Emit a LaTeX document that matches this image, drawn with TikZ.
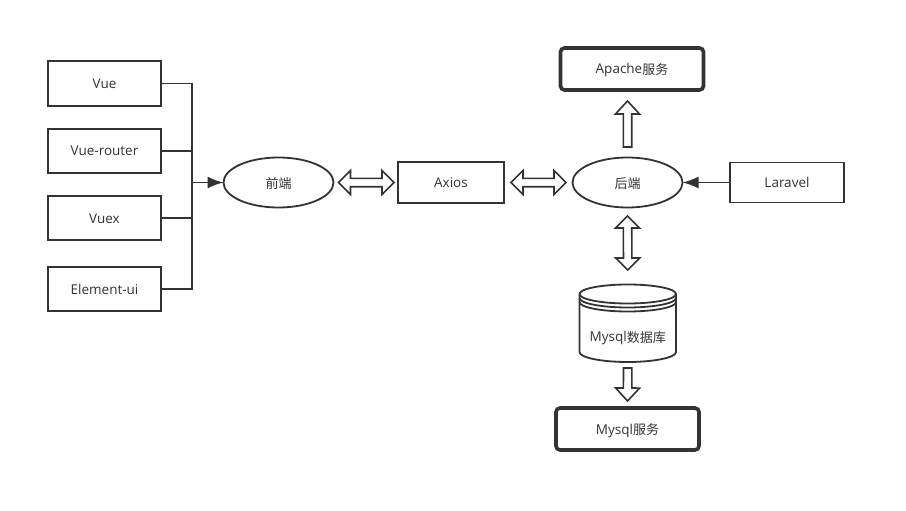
\documentclass[tikz,border=0pt]{standalone}
\usepackage{fontspec}
\setmainfont{Open Sans}
\newfontfamily\cjk{Noto Sans CJK SC}
\usetikzlibrary{calc,shapes.geometric,arrows.meta}
\definecolor{ink}{HTML}{333333}
\newcommand\ptA[2]{($(\p1)!#1!(\p2)!#2!90:(\p2)$)}
\newcommand\ptB[2]{($(\p2)!#1!(\p1)!#2!90:(\p1)$)}
\tikzset{
  x=1pt,y=-1pt,
  every node/.style={text=ink,font=\fontsize{13.5}{15}\selectfont,inner sep=0pt,outer sep=0pt,text height=11pt,text depth=1pt},
  boxnode/.style={draw=ink,line width=1.8pt,minimum width=#1,minimum height=44pt},
  servicebox/.style={draw=ink,line width=3.6pt,rounded corners=4pt,minimum width=#1,minimum height=42pt},
  ellnode/.style={draw=ink,line width=1.8pt,ellipse,minimum width=110pt,minimum height=50pt},
  wire/.style={draw=ink,line width=1.8pt},
  feed/.style={draw=ink,line width=1.8pt,-{Latex[length=16pt,width=12pt]}},
  blockboth/.style 2 args={draw=ink,fill=white,line width=1.6pt,to path={
    let \p1=($(\tikztostart)!#1!(\tikztotarget)$),\p2=($(\tikztotarget)!#2!(\tikztostart)$) in
    (\p1) -- \ptA{12pt}{12pt} -- \ptA{12pt}{4.2pt} -- \ptB{12pt}{-4.2pt} -- \ptB{12pt}{-12pt}
    -- (\p2) -- \ptB{12pt}{12pt} -- \ptB{12pt}{4.2pt} -- \ptA{12pt}{-4.2pt} -- \ptA{12pt}{-12pt} -- cycle}},
  blockone/.style 2 args={draw=ink,fill=white,line width=1.6pt,to path={
    let \p1=($(\tikztostart)!#1!(\tikztotarget)$),\p2=($(\tikztotarget)!#2!(\tikztostart)$) in
    \ptA{0pt}{4.2pt} -- \ptB{13pt}{-4.2pt} -- \ptB{13pt}{-12pt}
    -- (\p2) -- \ptB{13pt}{12pt} -- \ptB{13pt}{4.2pt} -- \ptA{0pt}{-4.2pt} -- cycle}},
}
\newcommand\zh[1]{{\cjk\fontsize{13}{15}\selectfont\raisebox{-0.6pt}{#1}}}
\begin{document}
\begin{tikzpicture}
\useasboundingbox (0,0) rectangle (906,511);
\fill[white] (0,0) rectangle (906,511);

\node[boxnode=113pt,minimum height=45pt] (vue) at (104.5,83.5) {Vue};
\node[boxnode=113pt] (router) at (104.5,151) {Vue-router};
\node[boxnode=113pt] (vuex) at (104.5,218) {Vuex};
\node[boxnode=113pt] (element) at (104.5,289) {Element-ui};
\node[ellnode] (front) at (278.5,182.5) {\zh{前端}};
\node[boxnode=106pt,minimum height=41pt] (axios) at (451,182.5) {Axios};
\node[ellnode] (back) at (627.5,182.5) {\zh{后端}};
\node[boxnode=114pt,minimum height=40pt] (laravel) at (787,182.5) {Laravel};
\node[servicebox=143pt] (apache) at (632,69) {Apache\zh{服务}};
\node[servicebox=143pt] (mysqlsvc) at (627.5,429) {Mysql\zh{服务}};

% database cylinder
\node[minimum width=96.5pt,minimum height=78pt] (db) at (627.75,323) {};
\draw[wire,fill=white] (db.north west) ++(0,10)
  -- ++(0,58) arc[start angle=180,end angle=360,x radius=48.25pt,y radius=10pt]
  -- ++(0,-58);
\draw[wire,fill=white] ($(db.north west)+(0,10)$) arc[start angle=180,end angle=540,x radius=48.25pt,y radius=9.5pt];
\draw[wire] ($(db.north west)+(0,14)$) arc[start angle=180,end angle=360,x radius=48.25pt,y radius=9.5pt];
\draw[wire] ($(db.north west)+(0,18)$) arc[start angle=180,end angle=360,x radius=48.25pt,y radius=9.5pt];
\node (dblabel) at (627.75,336.5) {Mysql\zh{数据库}};

% bus on the left
\coordinate (bus) at (192,182.5);
\draw[wire] (vue.east) -- (vue.east -| bus) -- (element.east -| bus) -- (element.east);
\draw[wire] (router.east) -- (router.east -| bus);
\draw[wire] (vuex.east) -- (vuex.east -| bus);
\draw[feed] (bus) -- (front.west);
\draw[feed] (laravel.west) -- (back.east);

% block arrows
\coordinate (apachein) at (back.north |- apache.south);
\draw[blockboth={5pt}{4pt}] (front.east) to (axios.west);
\draw[blockboth={7pt}{6.5pt}] (axios.east) to (back.west);
\draw[blockone={10.5pt}{11pt}] (back.north) to (apachein);
\draw[blockboth={8.5pt}{14pt}] (back.south) to (db.north);
\draw[blockone={6pt}{7pt}] (db.south) to (mysqlsvc.north);
\end{tikzpicture}
\end{document}
